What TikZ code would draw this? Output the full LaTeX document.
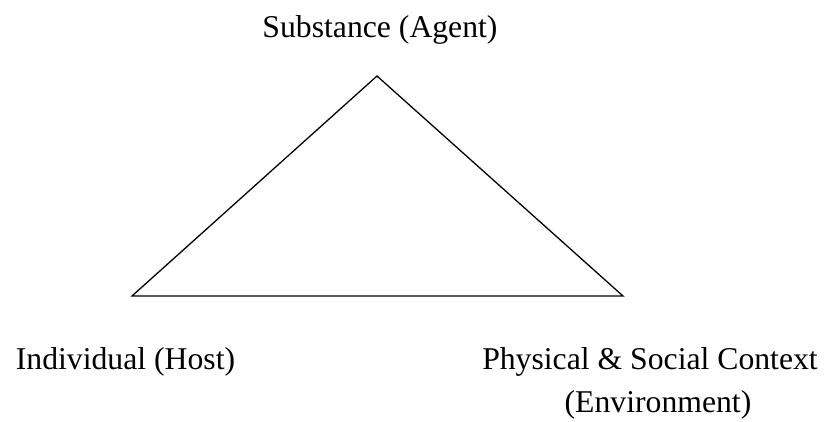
\documentclass[tikz,border=0pt]{standalone}
\usepackage{fontspec}
\setmainfont{Liberation Serif}
\begin{document}
\begin{tikzpicture}[x=1pt,y=-1pt,
  label text/.style={anchor=base,inner sep=0pt,font=\fontsize{31.7}{38}\selectfont},
  edge line/.style={line width=1.3pt,line join=miter}]
\useasboundingbox (0,0) rectangle (833,421);
% triangle corners
\coordinate (agent) at (377,76);
\coordinate (host) at (132,296);
\coordinate (env) at (623,296);
\draw[edge line] (agent) -- (host) -- (env) -- cycle;
% labels
\node[label text] (agentlabel) at (380,37) {Substance (Agent)};
\node[label text] (hostlabel) at (125.5,369) {Individual (Host)};
\node[label text] (envlabel) at (650,369) {Physical \& Social Context};
\node[label text] (envlabel2) at (658,412) {(Environment)};
\end{tikzpicture}
\end{document}
